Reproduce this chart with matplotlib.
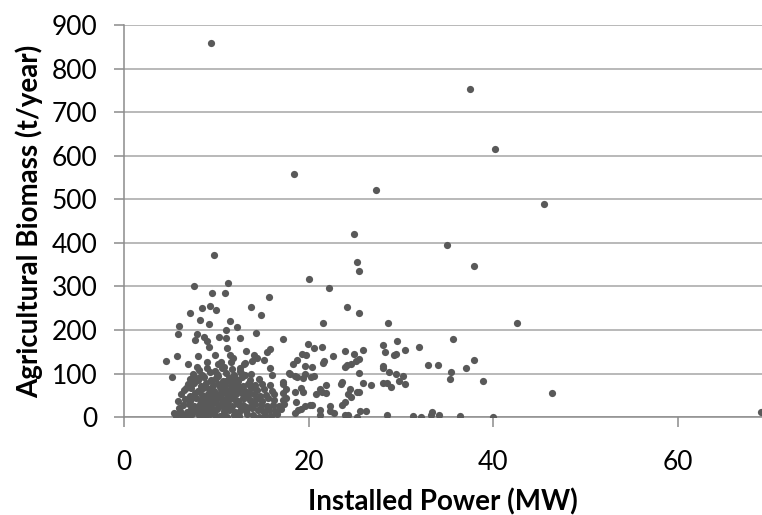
import matplotlib
matplotlib.use('Agg')
import matplotlib.pyplot as plt
import numpy as np

# sparse points: outliers and the right-hand part of the cloud
far_x = [9.46, 18.45, 27.3, 37.45, 40.2, 45.5, 35.0, 37.9, 42.6, 35.6, 31.9, 30.4, 32.9, 34.0,
         37.9, 37.0, 35.4, 35.3, 38.9, 30.2, 30.4, 46.4, 31.3, 32.2, 33.2, 33.4, 34.1, 36.4,
         40.0, 69.0]
far_y = [858, 557, 521, 752, 615, 490, 396, 347, 216, 180, 162, 155, 119, 119,
         131, 113, 104, 88, 82, 95, 77, 55, 3, 0, 6, 12, 6, 3,
         0, 12]

mid_x = [24.9, 25.2, 25.5, 20.0, 22.2, 24.1, 25.5, 21.6, 28.6, 17.2, 19.9, 20.6, 21.5, 19.3,
         19.7, 22.6, 23.9, 24.9, 25.9, 28.0, 28.3, 29.2, 29.5, 29.6, 18.7, 18.3, 19.6, 20.4,
         21.7, 21.6, 23.9, 24.2, 24.6, 25.1, 25.5, 25.5, 28.0, 28.0, 28.7, 29.5, 17.9, 18.5,
         19.6, 19.4, 20.3, 20.6, 23.5, 23.6, 25.9, 26.8, 28.0, 28.5, 28.9, 29.8, 18.5, 19.2,
         19.4, 20.8, 21.2, 21.5, 21.9, 21.9, 24.5, 24.3, 24.6, 25.2, 25.5, 23.6, 23.9, 18.6,
         20.2, 20.4, 19.6, 19.2, 18.9, 18.5, 21.2, 21.2, 22.3, 22.3, 22.8, 23.9, 24.3, 25.2,
         25.6, 26.2, 28.5, 17.2, 17.2, 17.5, 17.2, 17.5, 17.2, 17.3, 18.0, 18.7]
mid_y = [420, 356, 335, 317, 296, 253, 238, 216, 216, 180, 168, 159, 162, 146,
         142, 140, 152, 146, 155, 165, 149, 143, 146, 174, 131, 122, 117, 116,
         128, 125, 114, 120, 122, 128, 134, 101, 118, 112, 104, 98, 101, 95,
         98, 89, 92, 95, 76, 80, 79, 73, 79, 79, 70, 82, 58, 68,
         58, 52, 65, 58, 74, 55, 65, 52, 46, 58, 58, 28, 35, 35,
         28, 28, 25, 19, 16, 10, 16, 4, 25, 13, 10, 4, 4, 1,
         13, 13, 4, 80, 75, 65, 55, 45, 40, 30, 100, 92]

left_x = [9.78, 7.6, 11.3, 9.5, 10.9, 15.7, 7.15, 8.45, 9.3, 10.0, 13.8, 14.8, 8.2, 9.2,
          11.5, 12.2, 11.0, 6.0, 5.9, 7.9, 7.7, 8.7, 9.0, 9.2, 10.3, 11.1, 12.6, 14.3,
          11.2, 13.2, 15.8, 15.5, 9.9, 11.5, 11.8, 14.1, 14.4, 4.5, 5.7, 6.9, 8.0, 7.9,
          9.0, 10.2, 10.5, 10.6, 11.6, 12.6, 13.0, 13.1, 13.9, 15.2, 5.2, 15.8, 16.0]
left_y = [372, 302, 309, 284, 284, 275, 239, 250, 256, 245, 253, 235, 223, 213,
          220, 208, 200, 210, 190, 190, 176, 184, 175, 162, 184, 181, 181, 192,
          159, 152, 157, 150, 142, 142, 135, 142, 135, 128, 141, 122, 141, 115,
          127, 121, 127, 112, 127, 112, 123, 125, 129, 131, 92, 112, 96]

# the dense core of the cloud (5-17 MW, below ~110 t/year)
core_x = [5.6, 6.3, 6.9, 7.4, 8.1, 8.6, 9.3, 9.9, 10.4, 11.2, 11.9, 12.5, 13.3, 14.0, 14.6, 15.3, 15.9, 16.6,
          6.1, 6.8, 7.3, 7.9, 8.4, 9.0, 9.6, 10.1, 10.8, 11.4, 12.0, 12.7, 13.2, 13.9, 14.5, 15.1, 15.7, 16.4, 17.0,
          6.4, 7.0, 7.6, 8.2, 8.8, 9.4, 10.0, 10.6, 11.1, 11.7, 12.3, 12.9, 13.6, 14.2, 14.8, 15.5, 16.1, 16.8,
          5.9, 6.6, 7.2, 7.8, 8.3, 8.9, 9.5, 10.2, 10.7, 11.3, 11.9, 12.4, 13.0, 13.7, 14.3, 14.9, 15.6, 16.3,
          6.2, 7.1, 7.7, 8.4, 9.1, 9.7, 10.3, 10.9, 11.5, 12.1, 12.8, 13.4, 14.1, 14.7, 15.4, 16.2,
          6.5, 7.3, 8.0, 8.6, 9.2, 9.8, 10.5, 11.1, 11.8, 12.4, 13.1, 13.8, 14.4, 15.2, 16.0,
          6.9, 7.6, 8.3, 8.9, 9.6, 10.2, 10.9, 11.6, 12.2, 12.9, 13.5, 14.2, 15.0, 15.8,
          7.2, 8.0, 8.7, 9.4, 10.0, 10.7, 11.4, 12.1, 12.8, 13.6, 14.6,
          7.5, 8.5, 9.3, 10.1, 11.0, 11.9, 12.7, 13.8,
          8.0, 9.0, 10.0, 11.0, 12.0, 8.5, 9.5, 10.5, 11.5, 12.5,
          7.0, 7.7, 8.4, 9.1, 9.8, 10.4, 11.1, 11.8, 12.5, 13.2, 13.9,
          7.4, 8.1, 8.8, 9.5, 10.2, 10.8, 11.5, 12.2, 12.9, 13.5,
          6.7, 7.5, 8.2, 8.9, 9.7, 10.4, 11.2, 11.9, 12.6, 13.4,
          7.8, 8.6, 9.4, 10.1, 10.9, 11.6, 12.3, 13.1,
          8.1, 9.0, 9.9, 10.8, 11.7, 12.6, 5.4, 6.0]
core_y = [3, 6, 1, 8, 4, 2, 7, 5, 3, 0, 6, 2, 8, 4, 1, 5, 3, 7,
          15, 12, 18, 14, 20, 16, 13, 19, 15, 17, 12, 18, 14, 20, 16, 13, 17, 15, 19,
          27, 30, 25, 31, 28, 24, 32, 26, 29, 25, 31, 27, 24, 30, 28, 26, 29, 25,
          38, 42, 36, 44, 39, 41, 37, 43, 40, 36, 42, 38, 44, 39, 41, 37, 43, 40,
          52, 49, 55, 50, 54, 48, 53, 56, 49, 52, 55, 50, 54, 48, 51, 53,
          63, 66, 61, 67, 64, 60, 65, 62, 68, 63, 60, 66, 62, 65, 61,
          75, 78, 72, 79, 74, 77, 73, 80, 76, 72, 78, 74, 77, 73,
          88, 85, 91, 86, 90, 84, 89, 87, 92, 85, 88,
          100, 97, 104, 99, 102, 96, 101, 98,
          22, 35, 47, 58, 70, 10, 33, 45, 57, 69,
          9, 21, 33, 46, 58, 70, 82, 94, 11, 23, 35,
          47, 59, 71, 83, 95, 8, 20, 32, 44, 56,
          68, 80, 92, 5, 17, 29, 41, 53, 65, 77,
          89, 24, 36, 48, 60, 72, 84, 96,
          109, 112, 107, 114, 110, 106, 10, 20]

power = far_x + mid_x + left_x + core_x
biomass = far_y + mid_y + left_y + core_y

plt.rcParams['font.family'] = ['Lato', 'DejaVu Sans']

fig = plt.figure(figsize=(7.62, 5.15), dpi=100)
ax = fig.add_axes([0.1627, 0.19, 0.8373, 0.7615])

ax.scatter(power, biomass, s=27, color='#595959', linewidths=0, zorder=3)

ax.set_xlim(0, 69.1)
ax.set_ylim(0, 900)
ax.set_xticks([0, 20, 40, 60])
ax.set_yticks(np.arange(0, 901, 100))
ax.yaxis.grid(True, color='#a6a6a6', linewidth=1.1)
ax.set_axisbelow(True)

for s in ['top', 'right']:
    ax.spines[s].set_visible(False)
for s in ['left', 'bottom']:
    ax.spines[s].set_color('#8c8c8c')
    ax.spines[s].set_linewidth(1.1)

ax.tick_params(axis='both', colors='#8c8c8c', length=7, width=1.1, labelsize=19,
               labelcolor='black')
ax.tick_params(axis='x', pad=17)
ax.tick_params(axis='y', pad=12)

ax.set_xlabel('Installed Power (MW)', fontsize=20, fontweight='bold', labelpad=9)
ax.set_ylabel('Agricultural Biomass (t/year)', fontsize=20, fontweight='bold', labelpad=6)

fig.savefig('out.png', dpi=100)
